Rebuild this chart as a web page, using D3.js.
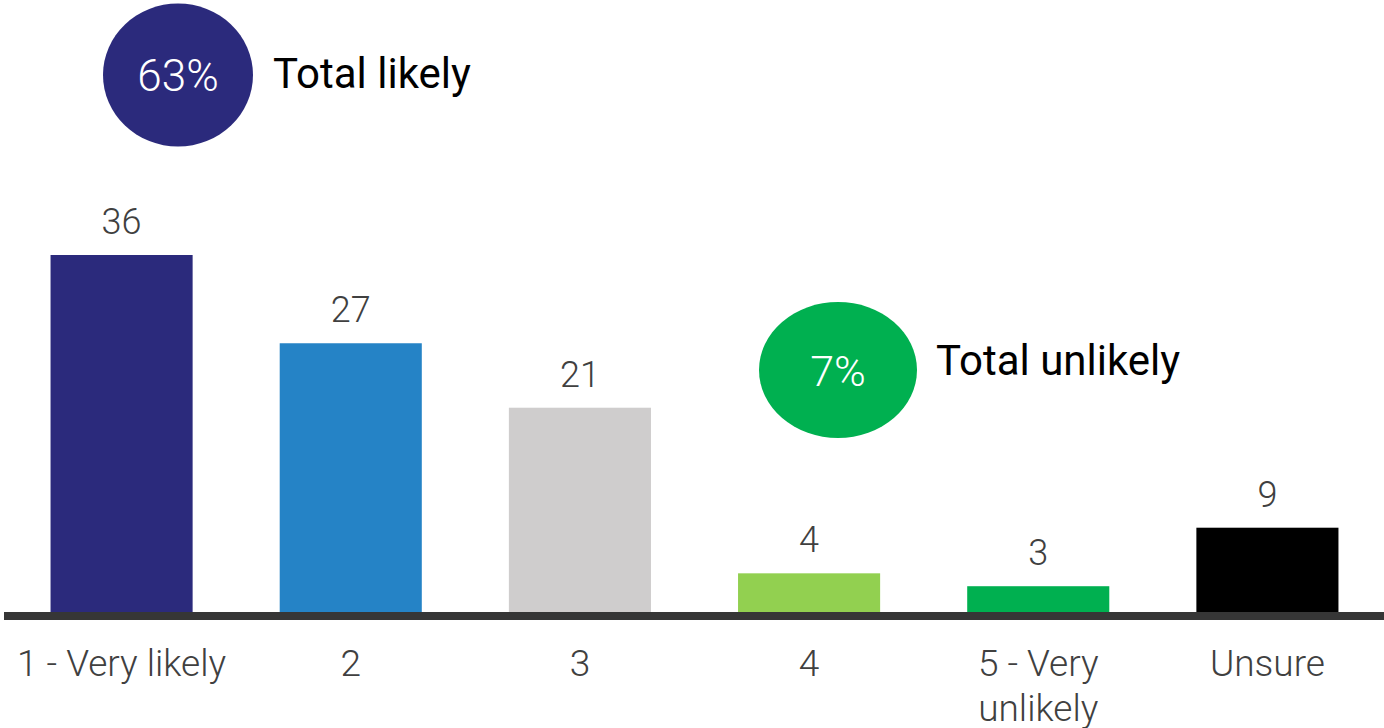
<!DOCTYPE html>
<html>
<head>
<meta charset="utf-8">
<script src="https://cdn.jsdelivr.net/npm/d3@7"></script>
<style>
  html, body { margin: 0; padding: 0; background: #fff; }
  svg { display: block; font-family: Roboto, "Noto Sans", sans-serif; }
</style>
</head>
<body>
<div id="chart"></div>
<script>
const categories = ["1 - Very likely", "2", "3", "4", "5 - Very unlikely", "Unsure"];
const values = [36, 27.1, 20.6, 3.9, 2.6, 8.5];
const valueLabels = ["36", "27", "21", "4", "3", "9"];
const barColors = ["#2b2a7c", "#2583c6", "#cfcdcd", "#92d050", "#00b050", "#000000"];
const summaryLabels = ["63%", "7%"];
const summaryTexts = ["Total likely", "Total unlikely"];
const summaryColors = ["#2b2a7c", "#00b050"];

const width = 1384, height = 728;
const baseline = 612;

const svg = d3.select("#chart")
  .append("svg")
  .attr("width", width)
  .attr("height", height);

const x = d3.scaleBand()
  .domain(categories)
  .range([7, 1382])
  .paddingInner(0.38)
  .paddingOuter(0.19);

const y = d3.scaleLinear()
  .domain([0, 36])
  .range([baseline, 255]);

// bars
svg.selectAll("rect.bar")
  .data(categories)
  .enter()
  .append("rect")
  .attr("class", "bar")
  .attr("x", (d) => x(d))
  .attr("y", (d, i) => y(values[i]))
  .attr("width", x.bandwidth())
  .attr("height", (d, i) => baseline - y(values[i]))
  .attr("fill", (d, i) => barColors[i]);

// value labels
svg.selectAll("text.value")
  .data(categories)
  .enter()
  .append("text")
  .attr("class", "value")
  .attr("x", (d) => x(d) + x.bandwidth() / 2)
  .attr("y", (d, i) => y(values[i]) - 21)
  .attr("text-anchor", "middle")
  .attr("font-size", "36px")
  .attr("font-weight", 300)
  .attr("fill", "#404040")
  .text((d, i) => valueLabels[i]);

// axis line
svg.append("line")
  .attr("x1", 4)
  .attr("x2", width)
  .attr("y1", baseline + 4)
  .attr("y2", baseline + 4)
  .attr("stroke", "#363636")
  .attr("stroke-width", 8);

// category labels, long one wrapped in two lines
const catText = svg.selectAll("text.cat")
  .data(categories)
  .enter()
  .append("text")
  .attr("class", "cat")
  .attr("x", (d) => x(d) + x.bandwidth() / 2)
  .attr("y", 676)
  .attr("text-anchor", "middle")
  .attr("font-size", "37px")
  .attr("font-weight", 300)
  .attr("fill", "#404040");

catText.each(function (d) {
  const lines = d === "5 - Very unlikely" ? ["5 - Very", "unlikely"] : [d];
  const t = d3.select(this);
  lines.forEach((l, i) => {
    t.append("tspan")
      .attr("x", x(d) + x.bandwidth() / 2)
      .attr("dy", i === 0 ? 0 : 45)
      .text(l);
  });
});

// summary bubbles
const bubbles = [
  { cx: 178, cy: 75, rx: 75, ry: 71.5, tx: 273, ty: 88, fs: 44 },
  { cx: 838, cy: 370, rx: 79, ry: 68, tx: 936, ty: 375, fs: 43 },
];

bubbles.forEach((b, i) => {
  svg.append("ellipse")
    .attr("cx", b.cx)
    .attr("cy", b.cy)
    .attr("rx", b.rx)
    .attr("ry", b.ry)
    .attr("fill", summaryColors[i]);

  svg.append("text")
    .attr("x", b.cx)
    .attr("y", b.cy + 16)
    .attr("text-anchor", "middle")
    .attr("font-size", b.fs + "px")
    .attr("font-weight", 300)
    .attr("fill", "#fff")
    .text(summaryLabels[i]);

  svg.append("text")
    .attr("x", b.tx)
    .attr("y", b.ty)
    .attr("font-size", "42px")
    .attr("font-weight", 400)
    .attr("fill", "#000")
    .text(summaryTexts[i]);
});
</script>
</body>
</html>
